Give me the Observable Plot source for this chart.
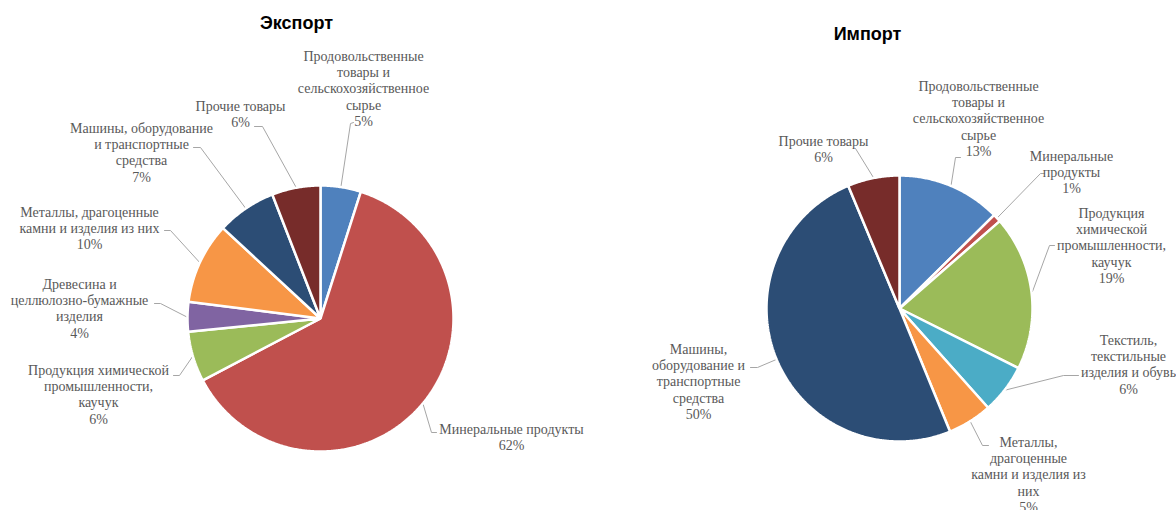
<!DOCTYPE html>
<html><head><meta charset="utf-8">
<script src="https://cdn.jsdelivr.net/npm/d3@7"></script>
<script src="https://cdn.jsdelivr.net/npm/@observablehq/plot@0.6"></script>
<style>
body{margin:0;background:#fff}
g[aria-label="titles"] text{letter-spacing:-0.7px;font-family:"Liberation Sans",Arial,sans-serif !important}
g[aria-label="labels"], g[aria-label="labels"] text{font-family:"Liberation Serif","Times New Roman",serif !important}
</style></head><body><div id="chart"></div>
<script>
// ---- data ----
const categories = [
  "Продовольственные товары и сельскохозяйственное сырье",
  "Минеральные продукты",
  "Продукция химической промышленности, каучук",
  "Древесина и целлюлозно-бумажные изделия",
  "Текстиль, текстильные изделия и обувь",
  "Металлы, драгоценные камни и изделия из них",
  "Машины, оборудование и транспортные средства",
  "Прочие товары"
];
const palette = ["#4F81BD","#C0504D","#9BBB59","#8064A2","#4BACC6","#F79646","#2C4D75","#772C2A"];
const titles = ["Экспорт", "Импорт"];

const exportNames = [categories[0], categories[1], categories[2], categories[3], categories[5], categories[6], categories[7]];
const exportValues = [4.9, 62.4, 6.1, 3.6, 9.9, 7.2, 5.9];
const exportLabels = [
  "Продовольственные\nтовары и\nсельскохозяйственное\nсырье",
  "Минеральные продукты",
  "Продукция химической\nпромышленности,\nкаучук",
  "Древесина и\nцеллюлозно-бумажные\nизделия",
  "Металлы, драгоценные\nкамни и изделия из них",
  "Машины, оборудование\nи транспортные\nсредства",
  "Прочие товары"
];

const importNames = [categories[0], categories[1], categories[2], categories[4], categories[5], categories[6], categories[7]];
const importValues = [12.6, 1.0, 18.8, 6.0, 5.4, 49.9, 6.3];
const importLabels = [
  "Продовольственные\nтовары и\nсельскохозяйственное\nсырье",
  "Минеральные\nпродукты",
  "Продукция\nхимической\nпромышленности,\nкаучук",
  "Текстиль,\nтекстильные\nизделия и обувь",
  "Металлы,\nдрагоценные\nкамни и изделия из\nних",
  "Машины,\nоборудование и\nтранспортные\nсредства",
  "Прочие товары"
];

// ---- layout (relative to pie centre): text centre x, first-line y, elbow x/y, dash end x/y ----
const pies = [
  {cx: 320, cy: 318, r: 133, tx: 296, ty: 23},
  {cx: 899, cy: 308, r: 133, tx: 867, ty: 34}
];
const exportLayout = [
  [43, -263, 30, -195, 33, -196],
  [191, 110, 111, 114, 116, 114],
  [-222, 51, -141, 57, -147, 57],
  [-241, -35, -160, -15, -166, -15],
  [-231, -107, -150, -88, -156, -88],
  [-179, -191, -120, -171, -127, -171],
  [-80, -213, -58, -192, -66, -192]
];
const importLayout = [
  [79, -223, 56, -151, 61, -151],
  [172, -153, 141, -135, 145, -135],
  [212, -96, 150, -63, 155, -63],
  [229, 31, 164, 67, 179, 67],
  [129, 133, 83, 137, 89, 137],
  [-201, 40, -142, 59, -149, 59],
  [-76, -168, -44, -160, -44, -160]
];

const FS = 14, LH = 16.3;
const polys = [], leaders = [], labels = [];
function build(pi, names, values, texts, layout) {
  const P = pies[pi];
  const total = d3.sum(values);
  let acc = 0;
  names.forEach((n, i) => {
    const a0 = acc / total * 2 * Math.PI; acc += values[i];
    const a1 = acc / total * 2 * Math.PI;
    const key = pi + ":" + i;
    polys.push({key, name: n, x: P.cx, y: P.cy});
    const steps = Math.max(2, Math.ceil((a1 - a0) / (Math.PI / 360)));
    for (let k = 0; k <= steps; k++) {
      const a = a0 + (a1 - a0) * k / steps;
      polys.push({key, name: n, x: P.cx + P.r * Math.sin(a), y: P.cy - P.r * Math.cos(a)});
    }
    const am = (a0 + a1) / 2;
    const L = layout[i];
    leaders.push({key, x: P.cx + (P.r + 1) * Math.sin(am), y: P.cy - (P.r + 1) * Math.cos(am)});
    leaders.push({key, x: P.cx + L[2], y: P.cy + L[3]});
    leaders.push({key, x: P.cx + L[4], y: P.cy + L[5]});
    const txt = texts[i] + "\n" + Math.round(values[i]) + "%";
    const nl = txt.split("\n").length;
    labels.push({x: P.cx + L[0], y: P.cy + L[1] + (nl - 1) * LH / 2, text: txt});
  });
}
build(0, exportNames, exportValues, exportLabels, exportLayout);
build(1, importNames, importValues, importLabels, importLayout);

const titleData = titles.map((t, i) => ({x: pies[i].tx, y: pies[i].ty, text: t}));

const chart = Plot.plot({
  width: 1176, height: 510, margin: 0,
  x: {domain: [0, 1176], range: [0, 1176], axis: null},
  y: {domain: [0, 510], range: [0, 510], axis: null},
  color: {domain: categories, range: palette},
  style: {background: "#fff", overflow: "visible"},
  marks: [
    Plot.line(leaders, {x: "x", y: "y", z: "key", stroke: "#a6a6a6", strokeWidth: 1}),
    Plot.line(polys, {x: "x", y: "y", z: "key", fill: "name", stroke: "#fff", strokeWidth: 2.5, curve: "linear-closed", strokeLinejoin: "miter"}),
    Plot.text(labels, {x: "x", y: "y", text: "text", lineHeight: LH / FS, fontSize: FS, fontFamily: "Liberation Serif", fill: "#595959", textAnchor: "middle", ariaLabel: "labels"}),
    Plot.text(titleData, {x: "x", y: "y", text: "text", fontSize: 18, fontWeight: "bold", fontFamily: "Liberation Sans", fill: "#000", ariaLabel: "titles"})
  ]
});
document.getElementById("chart").appendChild(chart);
</script></body></html>
